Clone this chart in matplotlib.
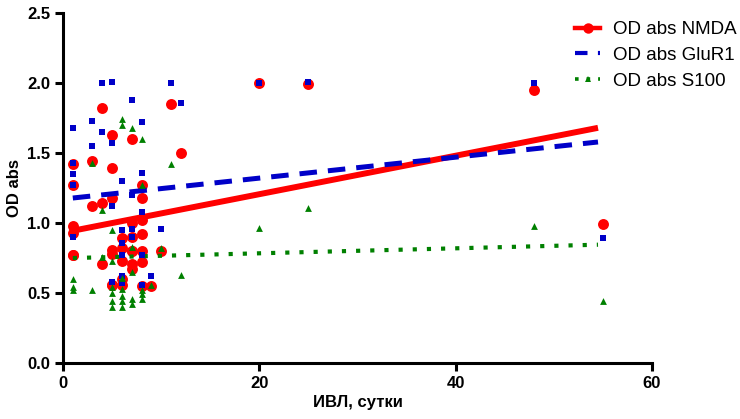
"""
OD abs vs ventilation days, scatter with linear fits
"""
import numpy as np
import matplotlib
matplotlib.use("Agg")
import matplotlib.pyplot as plt
from matplotlib.ticker import FormatStrFormatter

# NMDA points (days, OD)
nmda_x = [1, 1, 1, 1, 1, 1, 3, 3, 4, 4, 4, 5, 5, 5, 5, 5, 5, 5, 6, 6, 6, 6, 6,
          7, 7, 7, 7, 7, 7, 7, 8, 8, 8, 8, 8, 8, 8, 9, 10, 11, 12,
          20, 25, 48, 55]
nmda_y = [1.42, 1.27, 0.98, 0.93, 0.77, 0.77, 1.44, 1.12, 1.82, 1.14, 0.71,
          1.63, 1.39, 1.18, 0.81, 0.78, 0.56, 0.56, 0.89, 0.82, 0.73, 0.60,
          0.56, 1.60, 1.00, 0.90, 0.80, 0.71, 0.67, 0.80, 1.27, 1.18, 1.02,
          0.92, 0.80, 0.72, 0.55, 0.55, 0.80, 1.85, 1.50,
          2.00, 1.99, 1.95, 0.99]

# GluR1 points
glur_x = [1, 1, 1, 1, 1, 3, 3, 4, 4, 5, 5, 5, 5, 6, 6, 6, 6, 6, 6,
          7, 7, 7, 7, 8, 8, 8, 8, 8, 9, 10, 11, 12,
          20, 25, 48, 55]
glur_y = [1.68, 1.43, 1.35, 1.27, 0.90, 1.73, 1.55, 2.00, 1.65, 2.01, 1.57,
          1.12, 0.58, 1.30, 0.95, 0.86, 0.77, 0.62, 0.57, 1.88, 1.20, 0.96,
          0.90, 1.72, 1.36, 1.08, 0.77, 0.56, 0.62, 0.96, 2.00, 1.86,
          2.00, 2.01, 2.00, 0.89]

# S100 points
s100_x = [1, 1, 1, 3, 3, 4, 4, 5, 5, 5, 5, 5, 5, 6, 6, 6, 6, 6, 6, 6,
          7, 7, 7, 7, 7, 8, 8, 8, 8, 8, 9, 10, 11, 12,
          20, 25, 48, 55]
s100_y = [0.60, 0.54, 0.52, 1.43, 0.52, 1.09, 0.76, 0.95, 0.73, 0.54, 0.50,
          0.44, 0.40, 1.74, 1.70, 0.61, 0.53, 0.48, 0.44, 0.40, 1.68, 0.83,
          0.65, 0.46, 0.42, 1.60, 1.27, 0.52, 0.49, 0.46, 0.56, 0.82, 1.42,
          0.63, 0.965, 1.11, 0.98, 0.44]

# linear fits: (slope, intercept)
nmda_fit = (0.01374, 0.931)
glur_fit = (0.00748, 1.171)
s100_fit = (0.00178, 0.748)

RED = "#ff0000"
BLUE = "#0000c8"
GREEN = "#008000"
GLUR_DASH = (0, (3.5, 2.2))
S100_DOT = (0, (1, 2.4))


def fit_line(ax, xs, fit, **kw):
    """ Draw fitted straight line across the data range """
    xx = np.linspace(min(xs), max(xs) - 0.5, 50)
    ax.plot(xx, fit[0] * xx + fit[1], **kw)


fig = plt.figure(figsize=(7.4, 4.19), dpi=100)
ax = fig.add_axes([63 / 740, 1 - 363 / 419, 589 / 740, 350 / 419])

ax.scatter(nmda_x, nmda_y, s=62, c=RED, marker="o", linewidths=0, zorder=2)
ax.scatter(glur_x, glur_y, s=16, c=BLUE, marker="s", linewidths=0, zorder=4)
ax.scatter(s100_x, s100_y, s=24, c=GREEN, marker="^", linewidths=0, zorder=5)

fit_line(ax, nmda_x, nmda_fit, color=RED, lw=4.3, solid_capstyle="butt",
         zorder=3)
fit_line(ax, glur_x, glur_fit, color=BLUE, lw=3.6, ls=GLUR_DASH,
         dash_capstyle="butt", zorder=3)
fit_line(ax, s100_x, s100_fit, color=GREEN, lw=3.0, ls=S100_DOT,
         dash_capstyle="butt", zorder=3)

# legend handles: short line sample with marker
h1, = ax.plot([], [], color=RED, lw=3.2, marker="o", ms=7.5, mew=0)
h2, = ax.plot([], [], color=BLUE, lw=3.0, ls=(0, (3.0, 2.5)))
h3, = ax.plot([], [], color=GREEN, lw=2.6, ls=(0, (1, 2.2)), marker="^",
              ms=4.5, mew=0, markevery=[1])
fig.legend([h1, h2, h3], ["OD abs NMDA", "OD abs GluR1", "OD abs S100"],
           loc="upper left", bbox_to_anchor=(575 / 740, 1 - 21 / 419),
           frameon=False, borderpad=0, borderaxespad=0, handlelength=1.35,
           handletextpad=0.7, labelspacing=0.47,
           prop={"family": "Liberation Sans", "size": 13.5})

ax.set_xlim(0, 60)
ax.set_ylim(0, 2.5)
ax.set_xticks([0, 20, 40, 60])
ax.set_yticks([0.0, 0.5, 1.0, 1.5, 2.0, 2.5])
ax.yaxis.set_major_formatter(FormatStrFormatter("%.1f"))
for side in ("top", "right"):
    ax.spines[side].set_visible(False)
for side in ("left", "bottom"):
    ax.spines[side].set_linewidth(2.2)
ax.tick_params(width=2.2, length=6, direction="out", pad=3)
tick_font = {"family": "Liberation Sans", "weight": "bold", "size": 12}
for lbl in ax.get_xticklabels() + ax.get_yticklabels():
    lbl.set_fontproperties(tick_font)
ax.set_xlabel("ИВЛ, сутки", fontdict=tick_font, labelpad=3)
ax.set_ylabel("OD abs", fontdict=tick_font, labelpad=4)

fig.savefig("out.png", dpi=100)
